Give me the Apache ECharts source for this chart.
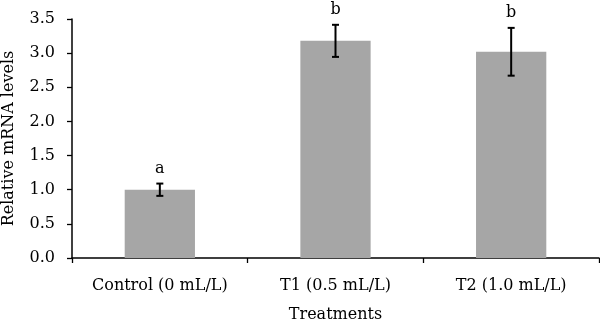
<!DOCTYPE html>
<html><head><meta charset="utf-8">
<script src="https://cdn.jsdelivr.net/npm/echarts@6/dist/echarts.min.js"></script>
<style>html,body{margin:0;padding:0;background:#fff}#c{width:600px;height:322px}</style>
</head><body><div id="c"></div>
<script>
var categories = ['Control (0 mL/L)', 'T1 (0.5 mL/L)', 'T2 (1.0 mL/L)'];
var means = [1.0, 3.18, 3.02];
var errors = [0.09, 0.235, 0.35];
var letters = ['a', 'b', 'b'];
var yTicks = [0, 0.5, 1, 1.5, 2, 2.5, 3, 3.5];

var FONT = 'DejaVu Serif';
var chart = echarts.init(document.getElementById('c'));
var errData = categories.map(function (c, i) { return [i, means[i], errors[i], letters[i]]; });
chart.setOption({
  animation: false,
  grid: { left: 72, right: 1, top: 19, bottom: 64, containLabel: false, outerBoundsMode: 'none' },
  xAxis: {
    type: 'category', data: categories,
    axisLine: { lineStyle: { color: '#000', width: 1.5 } },
    axisTick: { show: true, length: 5, lineStyle: { color: '#000', width: 1.3 } },
    axisLabel: { color: '#000', fontFamily: FONT, fontSize: 16, margin: 20, interval: 0, hideOverlap: false },
    name: 'Treatments', nameLocation: 'middle', nameGap: 49,
    nameTextStyle: { color: '#000', fontFamily: FONT, fontSize: 16 }
  },
  yAxis: {
    type: 'value', min: 0, max: 3.5, interval: 0.5,
    axisLine: { show: true, lineStyle: { color: '#000', width: 1.5 } },
    axisTick: { show: true, length: 5, lineStyle: { color: '#000', width: 1.3 } },
    splitLine: { show: false },
    axisLabel: { color: '#000', fontFamily: FONT, fontSize: 16, margin: 17,
      formatter: function (v) { return v.toFixed(1); } },
    name: 'Relative mRNA levels', nameLocation: 'middle', nameGap: 55,
    nameTextStyle: { color: '#000', fontFamily: FONT, fontSize: 16 }
  },
  series: [
    { type: 'bar', data: means, barWidth: '40%', itemStyle: { color: '#a6a6a6' } },
    {
      type: 'custom', data: errData, z: 10,
      renderItem: function (params, api) {
        var i = api.value(0), m = api.value(1), e = api.value(2);
        var top = api.coord([i, m + e]);
        var bot = api.coord([i, m - e]);
        var x = top[0], cw = 3.5;
        var st = { stroke: '#000', lineWidth: 2 };
        return {
          type: 'group', children: [
            { type: 'line', shape: { x1: x, y1: top[1], x2: x, y2: bot[1] }, style: st },
            { type: 'line', shape: { x1: x - cw, y1: top[1], x2: x + cw, y2: top[1] }, style: st },
            { type: 'line', shape: { x1: x - cw, y1: bot[1], x2: x + cw, y2: bot[1] }, style: st },
            { type: 'text', style: { text: letters[i], x: x, y: top[1] - 7,
                textAlign: 'center', textVerticalAlign: 'bottom',
                font: '16px "' + FONT + '"', fill: '#000' } }
          ]
        };
      }
    }
  ]
});
</script></body></html>
